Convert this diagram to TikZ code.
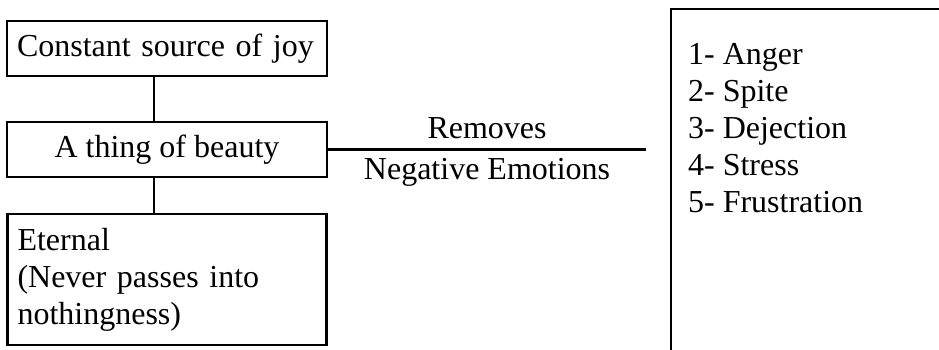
\documentclass[tikz,border=0pt]{standalone}
\usepackage{fontspec}
\setmainfont{Liberation Serif}
\usetikzlibrary{positioning}

\begin{document}
\begin{tikzpicture}[x=1pt, y=1pt, line width=2.2pt, font=\fontsize{32}{37}\selectfont]
    \clip (0,0) rectangle (939,350);
    % Left column
    \node [draw, rectangle, minimum width=320pt, minimum height=55pt] (beauty) at (167,200.5) {A thing of beauty};
    \node [draw, rectangle, above=44pt of beauty, minimum height=55pt, text width=300pt, inner sep=10pt, align=left] (joy) {Constant source of joy};
    \node [draw, rectangle, below=35pt of beauty, minimum height=131pt, text width=299pt, inner sep=10pt, align=left] (eternal) {Eternal\\(Never passes into\\nothingness)};
    
    % Right box
    \node [draw, rectangle, anchor=north west, minimum width=400pt, minimum height=400pt] (emotions) at (670,342) {};
    \node [anchor=north west, inner sep=0pt, align=left] (list) at ([xshift=17pt, yshift=-34pt]emotions.north west) {1- Anger\\2- Spite\\3- Dejection\\4- Stress\\5- Frustration};
    
    % Connections
    \coordinate (gap) at ([xshift=-24pt]emotions.west |- beauty.east);
    \draw ([xshift=-13pt]joy.south) -- ([xshift=-13pt]beauty.north);
    \draw ([xshift=-13pt]beauty.south) -- ([xshift=-13pt]eternal.north);
    \draw (beauty.east) -- node[above, inner sep=10pt] (removes) {Removes} node[below, inner sep=8pt] (negemo) {Negative Emotions} (gap);
\end{tikzpicture}
\end{document}
